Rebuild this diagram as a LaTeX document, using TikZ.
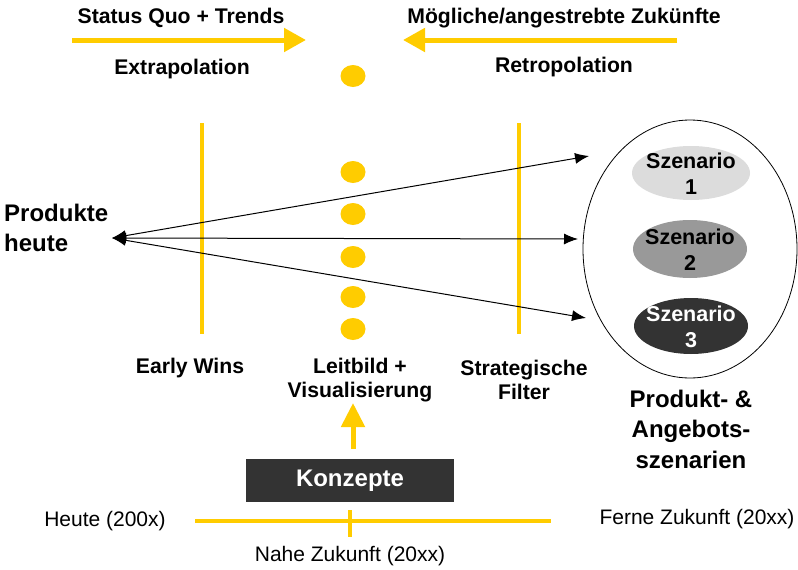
\documentclass[tikz,border=0pt]{standalone}
\usepackage{fontspec}
\setmainfont{Liberation Sans}
\usetikzlibrary{arrows.meta}
\definecolor{gold}{HTML}{FFCC00}
\definecolor{scA}{HTML}{DCDCDC}
\definecolor{scB}{HTML}{999999}
\definecolor{scC}{HTML}{333333}
\begin{document}
\begin{tikzpicture}[x=1pt,y=-1pt,
  lbl/.style={font=\fontsize{21.2}{24}\selectfont\bfseries, align=center, inner sep=0pt},
  plain/.style={font=\fontsize{21}{24}\selectfont, inner sep=0pt},
  bigl/.style={font=\fontsize{24}{30.5}\selectfont\bfseries, align=center, inner sep=0pt},
  sc/.style={font=\fontsize{21.5}{26}\selectfont\bfseries, align=center, inner sep=0pt},
  gline/.style={draw=gold, line width=4pt},
  garrow/.style={gold, line width=5pt, -{Triangle[length=22pt,width=23pt]}},
  dot/.style={fill=gold, draw=none},
  barrow/.style={black, line width=1pt, {Latex[length=14pt,width=11pt]}-{Latex[length=14pt,width=11pt]}}
]
\useasboundingbox (0,0) rectangle (798,570);
% top arrows and labels
\node[lbl] (sq) at (181,18) {Status Quo + Trends};
\node[lbl] (mz) at (564,18) {Mögliche/angestrebte Zukünfte};
\coordinate (a1s) at (72,40); \coordinate (a1e) at (306,40);
\coordinate (a2s) at (677,40); \coordinate (a2e) at (403,40);
\draw[garrow] (a1s) -- (a1e);
\draw[garrow] (a2s) -- (a2e);
\node[lbl] (ex) at (182,69) {Extrapolation};
\node[lbl] (re) at (564,67) {Retropolation};
% dots
\foreach \y in {76,172,214,257,297,329}
  \path[dot] (353,\y) ellipse [x radius=12.5pt, y radius=11pt];
% vertical lines
\coordinate (v1t) at (202,123); \coordinate (v1b) at (202,334);
\coordinate (v2t) at (519,123); \coordinate (v2b) at (519,334);
\draw[gline] (v1t) -- (v1b);
\draw[gline] (v2t) -- (v2b);
% left label
\node[bigl, align=left, anchor=west] (ph) at (4,228) {Produkte\\heute};
% big ellipse and scenarios
\draw[black, line width=0.8pt] (690,249) ellipse [x radius=107pt, y radius=129pt];
\path[fill=scA] (691,173) ellipse [x radius=59pt, y radius=27pt];
\path[fill=scB] (690,249) ellipse [x radius=57pt, y radius=29pt];
\path[fill=scC] (691,326) ellipse [x radius=57pt, y radius=28pt];
\node[sc] (s1) at (691,174) {Szenario\\1};
\node[sc] (s2) at (690,250) {Szenario\\2};
\node[sc, text=white] (s3) at (691,327) {Szenario\\3};
% black arrows
\coordinate (p) at (112,238);
\coordinate (t1) at (589,156);
\coordinate (t2) at (578,239);
\coordinate (t3) at (586,318);
\draw[barrow] (p) -- (t1);
\draw[barrow] (p) -- (t2);
\draw[barrow] (p) -- (t3);
% bottom labels
\node[lbl] (ew) at (190,368) {Early Wins};
\node[lbl] (lb) at (360,380) {Leitbild +\\Visualisierung};
\node[lbl] (sf) at (524,380) {Strategische\\Filter};
\node[bigl] (pa) at (691,429) {Produkt- \&\\Angebots-\\szenarien};
% Konzepte
\node[fill=scC, text=white, minimum width=208pt, minimum height=43pt, inner sep=0pt,
      font=\fontsize{24}{26}\selectfont\bfseries] (ko) at (350,480.5) {Konzepte};
\coordinate (ua) at (353,449); \coordinate (ub) at (353,403);
\draw[gold, line width=5pt, -{Triangle[length=24pt,width=23pt]}] (ua) -- (ub);
% timeline
\coordinate (tl) at (195,521); \coordinate (tr) at (551,521);
\coordinate (tt) at (350,510); \coordinate (tb) at (350,537);
\draw[gline] (tl) -- (tr);
\draw[gline] (tt) -- (tb);
\node[plain] (he) at (105,521) {Heute (200x)};
\node[plain] (fz) at (697,519) {Ferne Zukunft (20xx)};
\node[plain] (nz) at (350,556) {Nahe Zukunft (20xx)};
\end{tikzpicture}
\end{document}
